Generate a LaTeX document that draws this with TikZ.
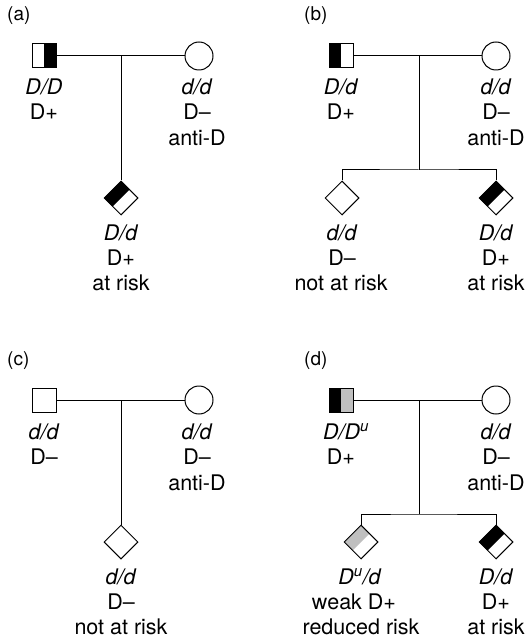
\documentclass[tikz,border=0pt]{standalone}
\usepackage{fontspec}
\setmainfont{TeX Gyre Heros}
\usetikzlibrary{shapes.geometric,calc}
\definecolor{lgray}{gray}{0.75}
\tikzset{
  lw/.style={line width=1pt},
  male/.style={draw,lw,rectangle,minimum size=24pt,inner sep=0pt,fill=white},
  female/.style={draw,lw,circle,minimum size=28pt,inner sep=0pt,fill=white},
  child/.style={draw,lw,diamond,minimum width=34pt,minimum height=34pt,inner sep=0pt,fill=white},
  lefthalf/.style={path picture={\fill[#1] (path picture bounding box.south west) rectangle (path picture bounding box.north);}},
  righthalf/.style={path picture={\fill[#1] (path picture bounding box.south) rectangle (path picture bounding box.north east);}},
  twohalves/.style 2 args={path picture={\fill[#1] (path picture bounding box.south west) rectangle (path picture bounding box.north);\fill[#2] (path picture bounding box.south) rectangle (path picture bounding box.north east);}},
  dtop/.style={path picture={\fill[#1] (path picture bounding box.north) -- (path picture bounding box.west) -- ($(path picture bounding box.west)!0.5!(path picture bounding box.south)$) -- ($(path picture bounding box.north)!0.5!(path picture bounding box.east)$) -- cycle;}},
  txt/.style={anchor=base,inner sep=0pt,font=\fontsize{21.5}{26}\selectfont},
  lab/.style={anchor=base west,inner sep=0pt,font=\fontsize{19}{22}\selectfont},
  conn/.style={lw}
}
\begin{document}
\begin{tikzpicture}[x=1pt,y=-1pt]
\useasboundingbox (0,0) rectangle (525,644);
% ---------- (a)
\node[lab] (la) at (7,21) {(a)};
\node[male,righthalf=black] (a1) at (44,56) {};
\node[female] (a2) at (199,56) {};
\node[child,dtop=black] (a3) at (121,198) {};
\coordinate (am) at (121,56);
\draw[conn] (a1) -- (a2);
\draw[conn] (am) -- (a3.north);
\node[txt] (a1t1) at (44,95) {\textit{D/D}};
\node[txt] (a1t2) at (44,120) {D+};
\node[txt] (a2t1) at (197,95) {\textit{d/d}};
\node[txt] (a2t2) at (197,120) {D–};
\node[txt] (a2t3) at (197,146) {anti-D};
\node[txt] (a3t1) at (121,240) {\textit{D/d}};
\node[txt] (a3t2) at (121,265) {D+};
\node[txt] (a3t3) at (121,290) {at risk};
% ---------- (b)
\node[lab] (lb) at (304,21) {(b)};
\node[male,lefthalf=black] (b1) at (341,56) {};
\node[female] (b2) at (496,56) {};
\node[child] (b3) at (342,198) {};
\node[child,dtop=black] (b4) at (496,198) {};
\coordinate (bm) at (419,56);
\coordinate (bbar) at (419,170);
\draw[conn] (b1) -- (b2);
\draw[conn] (bm) -- (bbar);
\draw[conn] (b3.north) |- (bbar) -| (b4.north);
\node[txt] (b1t1) at (341,95) {\textit{D/d}};
\node[txt] (b1t2) at (341,120) {D+};
\node[txt] (b2t1) at (496,95) {\textit{d/d}};
\node[txt] (b2t2) at (496,120) {D–};
\node[txt] (b2t3) at (496,146) {anti-D};
\node[txt] (b3t1) at (342,240) {\textit{d/d}};
\node[txt] (b3t2) at (342,265) {D–};
\node[txt] (b3t3) at (341,290) {not at risk};
\node[txt] (b4t1) at (496,240) {\textit{D/d}};
\node[txt] (b4t2) at (496,265) {D+};
\node[txt] (b4t3) at (496,290) {at risk};
% ---------- (c)
\node[lab] (lc) at (7,365) {(c)};
\node[male] (c1) at (44,400) {};
\node[female] (c2) at (199,400) {};
\node[child] (c3) at (121,542) {};
\coordinate (cm) at (121,400);
\draw[conn] (c1) -- (c2);
\draw[conn] (cm) -- (c3.north);
\node[txt] (c1t1) at (44,439) {\textit{d/d}};
\node[txt] (c1t2) at (44,464) {D–};
\node[txt] (c2t1) at (197,439) {\textit{d/d}};
\node[txt] (c2t2) at (197,464) {D–};
\node[txt] (c2t3) at (197,490) {anti-D};
\node[txt] (c3t1) at (121,584) {\textit{d/d}};
\node[txt] (c3t2) at (121,609) {D–};
\node[txt] (c3t3) at (121,634) {not at risk};
% ---------- (d)
\node[lab] (ld) at (304,365) {(d)};
\node[male,twohalves={black}{lgray}] (d1) at (341,400) {};
\node[female] (d2) at (496,400) {};
\node[child,dtop=lgray] (d3) at (361,542) {};
\node[child,dtop=black] (d4) at (496,542) {};
\coordinate (dm) at (419,400);
\coordinate (dbar) at (419,514);
\draw[conn] (d1) -- (d2);
\draw[conn] (dm) -- (dbar);
\draw[conn] (d3.north) |- (dbar) -| (d4.north);
\node[txt] (d1t1) at (346,439) {\textit{D/D\textsuperscript{u}}};
\node[txt] (d1t2) at (341,464) {D+};
\node[txt] (d2t1) at (496,439) {\textit{d/d}};
\node[txt] (d2t2) at (496,464) {D–};
\node[txt] (d2t3) at (496,490) {anti-D};
\node[txt] (d3t1) at (360,584) {\textit{D\textsuperscript{u}/d}};
\node[txt] (d3t2) at (354,609) {weak D+};
\node[txt] (d3t3) at (361,634) {reduced risk};
\node[txt] (d4t1) at (496,584) {\textit{D/d}};
\node[txt] (d4t2) at (496,609) {D+};
\node[txt] (d4t3) at (496,634) {at risk};
\end{tikzpicture}
\end{document}
